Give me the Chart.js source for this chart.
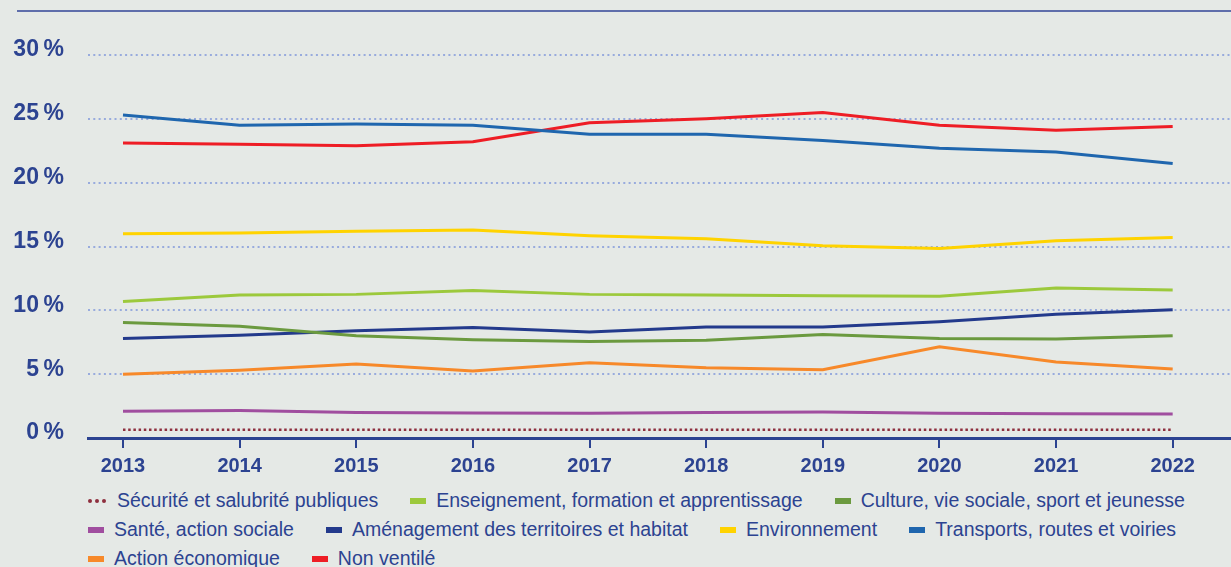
<!DOCTYPE html>
<html lang="fr">
<head>
<meta charset="utf-8">
<title>Évolution de la répartition</title>
<script src="https://cdn.jsdelivr.net/npm/chart.js@4.4.1/dist/chart.umd.min.js"></script>
<style>
  html, body { margin: 0; padding: 0; }
  body {
    width: 1231px; height: 567px; overflow: hidden; position: relative;
    background: #e5e9e6;
    font-family: "Liberation Sans", Arial, sans-serif;
  }
  .topline { position: absolute; left: 17px; right: 0; top: 10px; height: 2px; background: #5f6eab; }
  .chart-box { position: absolute; left: 0; top: 0; width: 1231px; height: 480px; }
  #legend {
    position: absolute; left: 88px; top: 486px; width: 1143px;
    display: flex; flex-wrap: wrap;
    color: #2c4391; font-size: 19.5px; line-height: 29px;
  }
  .item { display: flex; align-items: center; margin-right: 32px; white-space: nowrap; }
  .swatch { width: 16px; height: 6px; margin-right: 10px; }
  .dots { display: flex; gap: 3px; margin-right: 11px; }
  .dots span { width: 4px; height: 4px; border-radius: 50%; }
</style>
</head>
<body>
<div class="topline"></div>
<div class="chart-box"><canvas id="chart" width="1231" height="480"></canvas></div>
<div id="legend"></div>

<script>
// data (share of total, in %)
const years = ['2013', '2014', '2015', '2016', '2017', '2018', '2019', '2020', '2021', '2022'];

const securite      = [0.65, 0.65, 0.65, 0.65, 0.65, 0.65, 0.65, 0.65, 0.65, 0.65];
const enseignement  = [10.7, 11.2, 11.25, 11.55, 11.25, 11.2, 11.15, 11.1, 11.75, 11.6];
const culture       = [9.05, 8.75, 8.0, 7.7, 7.55, 7.65, 8.1, 7.8, 7.75, 8.0];
const sante         = [2.1, 2.15, 2.0, 1.95, 1.93, 2.0, 2.03, 1.93, 1.9, 1.88];
const amenagement   = [7.8, 8.05, 8.4, 8.65, 8.3, 8.7, 8.7, 9.1, 9.7, 10.05];
const environnement = [16.0, 16.05, 16.2, 16.3, 15.85, 15.6, 15.05, 14.85, 15.45, 15.7];
const transports    = [25.3, 24.5, 24.6, 24.5, 23.8, 23.8, 23.3, 22.7, 22.4, 21.5];
const actionEco     = [5.0, 5.3, 5.8, 5.25, 5.9, 5.5, 5.35, 7.15, 5.95, 5.4];
const nonVentile    = [23.1, 23.0, 22.9, 23.2, 24.7, 25.0, 25.5, 24.5, 24.1, 24.4];

const yTicks = [0, 5, 10, 15, 20, 25, 30];

const navy = '#2c4391';

const series = [
  { label: 'Sécurité et salubrité publiques', data: securite, color: '#8e2f3e', dotted: true },
  { label: 'Enseignement, formation et apprentissage', data: enseignement, color: '#9cc93c' },
  { label: 'Culture, vie sociale, sport et jeunesse', data: culture, color: '#6b9a3f' },
  { label: 'Santé, action sociale', data: sante, color: '#a04e9f' },
  { label: 'Aménagement des territoires et habitat', data: amenagement, color: '#233a8c' },
  { label: 'Environnement', data: environnement, color: '#ffd300' },
  { label: 'Transports, routes et voiries', data: transports, color: '#1f66ae' },
  { label: 'Action économique', data: actionEco, color: '#f7892a' },
  { label: 'Non ventilé', data: nonVentile, color: '#ee1d25' }
];

const ctx = document.getElementById('chart').getContext('2d');
new Chart(ctx, {
  type: 'line',
  data: {
    datasets: series.map(s => ({
      label: s.label,
      data: s.data.map((v, i) => ({ x: i, y: v })),
      borderColor: s.color,
      backgroundColor: s.color,
      borderWidth: s.dotted ? 2.5 : 3,
      borderDash: s.dotted ? [2.5, 2.7] : [],
      pointRadius: 0,
      tension: 0,
      fill: false
    }))
  },
  options: {
    responsive: false,
    animation: false,
    layout: { padding: { top: 55, left: 0, right: 0, bottom: 0 } },
    plugins: {
      legend: { display: false },
      tooltip: { enabled: false }
    },
    scales: {
      x: {
        type: 'linear',
        min: -0.3,
        max: 9.5,
        afterBuildTicks: scale => { scale.ticks = years.map((y, i) => ({ value: i })); },
        afterFit: scale => { scale.height = 42; },
        grid: { drawOnChartArea: false, drawTicks: true, tickLength: 10, color: navy, lineWidth: 2 },
        border: { display: true, color: navy, width: 3 },
        ticks: {
          callback: v => years[v],
          autoSkip: false,
          maxRotation: 0,
          padding: 6,
          color: navy,
          font: { family: '"Liberation Sans", Arial, sans-serif', size: 20, weight: 'bold' }
        }
      },
      y: {
        min: 0,
        max: 30,
        afterBuildTicks: scale => { scale.ticks = yTicks.map(v => ({ value: v })); },
        afterFit: scale => { scale.width = 88; },
        grid: { color: '#98abdd', lineWidth: 2, drawTicks: false },
        border: { display: false, dash: [2, 3.3] },
        ticks: {
          callback: v => v + '\u2009%',
          padding: 24,
          labelOffset: -5,
          color: navy,
          font: { family: '"Liberation Sans", Arial, sans-serif', size: 23, weight: 'bold' }
        }
      }
    }
  }
});

// legend in html, built from the same series list
const legend = document.getElementById('legend');
series.forEach(s => {
  const item = document.createElement('div');
  item.className = 'item';
  if (s.dotted) {
    const dots = document.createElement('div');
    dots.className = 'dots';
    for (let i = 0; i < 3; i++) {
      const d = document.createElement('span');
      d.style.background = s.color;
      dots.appendChild(d);
    }
    item.appendChild(dots);
  } else {
    const sw = document.createElement('span');
    sw.className = 'swatch';
    sw.style.background = s.color;
    item.appendChild(sw);
  }
  const txt = document.createElement('span');
  txt.textContent = s.label;
  item.appendChild(txt);
  legend.appendChild(item);
});
</script>
</body>
</html>
